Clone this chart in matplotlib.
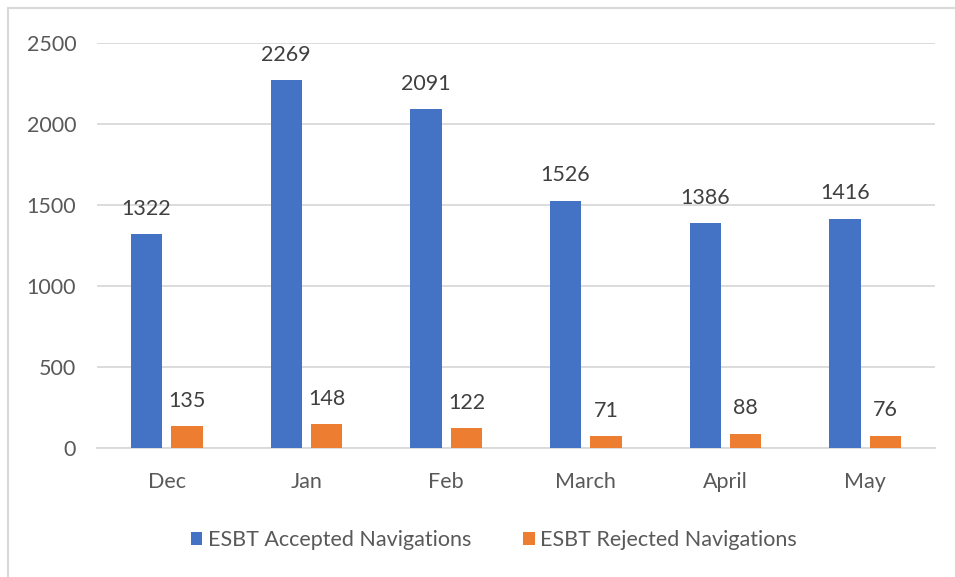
import numpy as np
import matplotlib
matplotlib.use("Agg")
import matplotlib.pyplot as plt
from matplotlib.patches import Rectangle

plt.rcParams['font.family'] = ['Lato', 'DejaVu Sans']

# data
months = ["Dec", "Jan", "Feb", "March", "April", "May"]
accepted = [1322, 2269, 2091, 1526, 1386, 1416]
rejected = [135, 148, 122, 71, 88, 76]

blue = "#4472C4"
orange = "#ED7D31"
txt = "#595959"
grid = "#D9D9D9"

fig = plt.figure(figsize=(9.55, 5.77), dpi=100)
ax = fig.add_axes([0.1016, 0.2236, 0.979 - 0.1016, 0.9255 - 0.2236])

x = np.arange(len(months))
w = 0.225
b1 = ax.bar(x - 0.145, accepted, w, color=blue, label="ESBT Accepted Navigations", zorder=3)
b2 = ax.bar(x + 0.145, rejected, w, color=orange, label="ESBT Rejected Navigations", zorder=3)

for bars, vals in ((b1, accepted), (b2, rejected)):
    for r, v in zip(bars, vals):
        ax.annotate(str(v), (r.get_x() + r.get_width() / 2, v), xytext=(0, 11),
                    textcoords="offset points", ha="center", va="bottom",
                    fontsize=15.5, color="#404040")

ax.set_xlim(-0.5, len(months) - 0.5)
ax.set_ylim(0, 2500)
ax.set_yticks(range(0, 2501, 500))
ax.set_xticks(x)
ax.set_xticklabels(months)
ax.yaxis.grid(True, color=grid, linewidth=1.3, zorder=0)
for s in ["top", "right", "left"]:
    ax.spines[s].set_visible(False)
ax.spines["bottom"].set_color(grid)
ax.spines["bottom"].set_linewidth(1.3)
ax.tick_params(axis="both", length=0, labelsize=15.5, colors=txt)
ax.tick_params(axis="y", pad=15)
ax.tick_params(axis="x", pad=17)

fig.legend(loc="center", bbox_to_anchor=(0.517, 1 - 540 / 577), ncol=2, frameon=False,
           fontsize=15.5, handlelength=0.55, handleheight=0.55, handletextpad=0.25,
           columnspacing=2.4, labelcolor=txt)

# outer chart frame
fig.patches.append(Rectangle((8 / 955, -0.1), 1.2, 1 - 8 / 577 + 0.1, transform=fig.transFigure,
                             fill=False, edgecolor=grid, linewidth=1.5))

fig.savefig("out.png", dpi=100, facecolor="white")
